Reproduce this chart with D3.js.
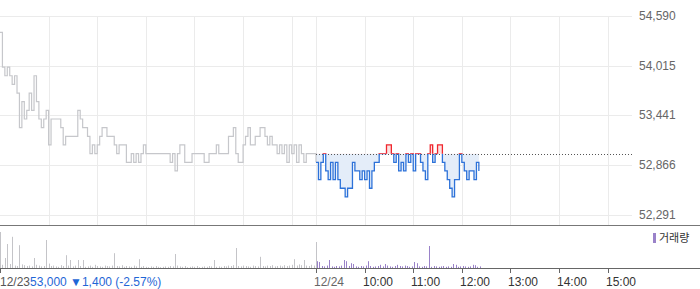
<!DOCTYPE html>
<html>
<head>
<meta charset="utf-8">
<script src="https://cdn.jsdelivr.net/npm/d3@7"></script>
<style>
body { margin: 0; background: #fff; }
svg { display: block; font-family: "Liberation Sans", Arial, sans-serif; font-size: 12px; }
</style>
</head>
<body>
<div id="chart"></div>
<script>
// prices every 3 minutes, 12/23 from 09:00
var prevPrice = [54400,54000,53900,54000,53900,53800,53900,53700,53300,53600,
  53400,53500,53700,53500,53900,53600,53400,53300,53400,53500,
  53100,53400,53400,53400,53400,53300,53100,53200,53200,53200,
  53200,53200,53500,53400,53300,53300,53200,53000,53100,53000,
  53100,53200,53300,53300,53200,53200,53200,53100,53000,53100,
  53100,53100,52900,52900,53000,52900,53000,52900,53000,53100,
  53000,53000,53000,53000,53000,53000,53000,53000,53000,53000,
  52900,53000,52800,53000,53100,53100,52900,52900,52900,53000,
  53000,53000,53000,53000,52900,52900,53000,53000,53000,53100,
  53000,53000,53000,53000,53200,53200,53300,53000,52900,52900,
  53100,53200,53300,53100,53100,53200,53200,53300,53300,53200,
  53100,53200,53100,53100,53000,53100,53000,53100,52900,53100,
  53000,53100,52900,53100,53000,52900,53000,53000,53000,53000,
  53000];

// 12/24 from 09:00
var todayPrice = [52900,52700,52900,53000,52800,52700,52900,52700,52900,52700,
  52600,52600,52500,52600,52600,52900,52800,52800,52700,52800,
  52700,52800,52600,52800,52900,52900,53000,53000,53000,53100,
  53100,53000,52900,53000,52800,52900,52800,53000,52900,53000,
  52800,53000,53000,52900,52800,52700,53000,53100,52900,53000,
  53100,53100,52900,52800,52700,52600,52500,52700,52700,53000,
  52900,52800,52700,52800,52800,52700,52900,52800];

var prevVolume = [90000,8000,25000,60000,10000,78000,6000,5000,57000,9000,
  7000,5000,6000,4000,25000,8000,6000,4000,5000,70000,
  11000,5000,6000,4000,3000,7000,5000,32000,6000,20000,
  4000,6000,20000,5000,20000,3000,4000,6000,3000,8000,
  5000,4000,3000,6000,5000,4000,6000,37000,5000,4000,
  7000,3000,5000,4000,3000,6000,4000,22000,3000,5000,
  3000,2000,4000,3000,5000,3000,2000,3000,4000,3000,
  5000,4000,35000,6000,4000,3000,5000,2000,3000,4000,
  3000,5000,2000,3000,4000,3000,5000,4000,20000,3000,
  4000,3000,5000,4000,6000,5000,7000,50000,5000,4000,
  6000,5000,4000,3000,6000,5000,4000,28000,5000,4000,
  6000,5000,7000,4000,5000,6000,4000,7000,5000,6000,
  8000,22000,6000,9000,7000,20000,6000,5000,8000,6000,
  65000];

var todayVolume = [17000,15000,5000,4000,6000,20000,4000,3000,5000,4000,
  6000,20000,17000,5000,12000,10000,4000,3000,5000,4000,
  6000,17000,5000,3000,4000,5000,8000,4000,10000,6000,
  4000,3000,5000,8000,5000,4000,6000,5000,3000,4000,
  15000,12000,4000,3000,5000,4000,55000,3000,5000,4000,
  3000,4000,5000,3000,4000,3000,10000,8000,3000,4000,
  5000,4000,3000,4000,8000,7000,3000,4000];

var priceTicks = [52291, 52866, 53441, 54015, 54590];
var gridMinutes = [60, 120, 180, 240, 300, 360, 390, 450, 510, 570, 630, 690, 750];
var timeTicks = [0, 390, 450, 510, 570, 630, 690, 750];
var timeLabels = ["12/23", "12/24", "10:00", "11:00", "12:00", "13:00", "14:00", "15:00"];
var baseClose = 53000;
var stepMin = 3;

var chartW = 700, chartH = 289;
var plotRight = 632, plotTop = 16, mainBottom = 215, volTop = 228, volBottom = 268;

var x = d3.scaleLinear().domain([0, 780]).range([0, plotRight]);
var y = d3.scaleLinear().domain([52291, 54590]).range([mainBottom, plotTop]);
var yv = d3.scaleLinear().domain([0, 100000]).range([volBottom, volTop]);

var prevData = prevPrice.map(function(p, i) { return {t: i * stepMin, p: p, v: prevVolume[i]}; });
var todayData = todayPrice.map(function(p, i) { return {t: 390 + i * stepMin, p: p, v: todayVolume[i]}; });

var svg = d3.select("#chart").append("svg")
    .attr("width", chartW)
    .attr("height", chartH);

// clip paths: above / below previous close
var defs = svg.append("defs");
defs.append("clipPath").attr("id", "above")
  .append("rect").attr("x", 0).attr("y", 0).attr("width", chartW).attr("height", y(baseClose));
defs.append("clipPath").attr("id", "below")
  .append("rect").attr("x", 0).attr("y", y(baseClose)).attr("width", chartW).attr("height", chartH);

// grid
svg.append("g").selectAll("line").data(priceTicks).enter().append("line")
    .attr("x1", 0).attr("x2", plotRight)
    .attr("y1", function(d) { return Math.round(y(d)) + 0.5; })
    .attr("y2", function(d) { return Math.round(y(d)) + 0.5; })
    .style("stroke", "#ebebeb");

svg.append("g").selectAll("line").data(gridMinutes).enter().append("line")
    .attr("x1", function(d) { return Math.round(x(d)) + 0.5; })
    .attr("x2", function(d) { return Math.round(x(d)) + 0.5; })
    .attr("y1", plotTop).attr("y2", 225)
    .style("stroke", "#ebebeb");

// y labels
svg.append("g").selectAll("text").data(priceTicks).enter().append("text")
    .attr("x", 639)
    .attr("y", function(d) { return y(d) + 4; })
    .style("fill", "#666")
    .text(function(d) { return d3.format(",")(d); });

// area + line for today (step shaped like the tick data)
var area = d3.area()
    .curve(d3.curveStepAfter)
    .x(function(d) { return x(d.t); })
    .y0(y(baseClose))
    .y1(function(d) { return y(d.p); });
var line = d3.line()
    .curve(d3.curveStepAfter)
    .x(function(d) { return x(d.t); })
    .y(function(d) { return y(d.p); });

svg.append("path").datum(todayData)
    .attr("d", area).attr("clip-path", "url(#below)")
    .style("fill", "#e4edf9");
svg.append("path").datum(todayData)
    .attr("d", area).attr("clip-path", "url(#above)")
    .style("fill", "#fbe3e3");

// previous day line
svg.append("path").datum(prevData.concat([todayData[0]]))
    .attr("d", line)
    .style("fill", "none").style("stroke", "#c6c7cb").style("stroke-width", 1.2);

// previous close dotted
svg.append("line")
    .attr("x1", x(390)).attr("x2", plotRight)
    .attr("y1", Math.round(y(baseClose)) + 0.5).attr("y2", Math.round(y(baseClose)) + 0.5)
    .style("stroke", "#555").style("stroke-dasharray", "1,2");

svg.append("path").datum(todayData)
    .attr("d", line).attr("clip-path", "url(#below)")
    .style("fill", "none").style("stroke", "#2d72d9").style("stroke-width", 1.3);
svg.append("path").datum(todayData)
    .attr("d", line).attr("clip-path", "url(#above)")
    .style("fill", "none").style("stroke", "#f0262d").style("stroke-width", 1.3);

// separator between price and volume
svg.append("line")
    .attr("x1", 0).attr("x2", chartW).attr("y1", 225.5).attr("y2", 225.5)
    .style("stroke", "#777").style("stroke-width", 1);

// volume bars
svg.append("g").selectAll("rect").data(prevData).enter().append("rect")
    .attr("x", function(d) { return Math.round(x(d.t)); })
    .attr("y", function(d) { return yv(d.v); })
    .attr("width", 1)
    .attr("height", function(d) { return volBottom - yv(d.v); })
    .style("fill", "#c4c4c8");
svg.append("g").selectAll("rect").data(todayData).enter().append("rect")
    .attr("x", function(d) { return Math.round(x(d.t)) + 1; })
    .attr("y", function(d) { return yv(d.v); })
    .attr("width", 1)
    .attr("height", function(d) { return volBottom - yv(d.v); })
    .style("fill", "#9a82c9");

// legend
svg.append("rect").attr("x", 653).attr("y", 233).attr("width", 3).attr("height", 10).style("fill", "#9a82c9");
svg.append("text").attr("x", 659).attr("y", 242)
    .style("font-family", "'Noto Sans CJK KR', sans-serif").style("font-size", "11px")
    .style("fill", "#333").text("거래량");

// time axis
svg.append("line")
    .attr("x1", 0).attr("x2", chartW).attr("y1", volBottom + 0.5).attr("y2", volBottom + 0.5)
    .style("stroke", "#666");
svg.append("g").selectAll("line").data(timeTicks).enter().append("line")
    .attr("x1", function(d) { return Math.round(x(d)) + 0.5; })
    .attr("x2", function(d) { return Math.round(x(d)) + 0.5; })
    .attr("y1", volBottom).attr("y2", volBottom + 5)
    .style("stroke", "#666");

var labels = svg.append("g");
timeTicks.forEach(function(t, i) {
  if (i === 0) return;
  labels.append("text")
      .attr("x", Math.round(x(t)) - 2)
      .attr("y", 286)
      .style("fill", i === 1 ? "#666" : "#333")
      .text(timeLabels[i]);
});

var first = svg.append("text").attr("x", 0).attr("y", 286);
first.append("tspan").style("fill", "#555").text(timeLabels[0]);
first.append("tspan").style("fill", "#1f66d6")
    .text(d3.format(",")(baseClose) + " \u25BC" + d3.format(",")(1400) + " (-2.57%)");
</script>
</body>
</html>
